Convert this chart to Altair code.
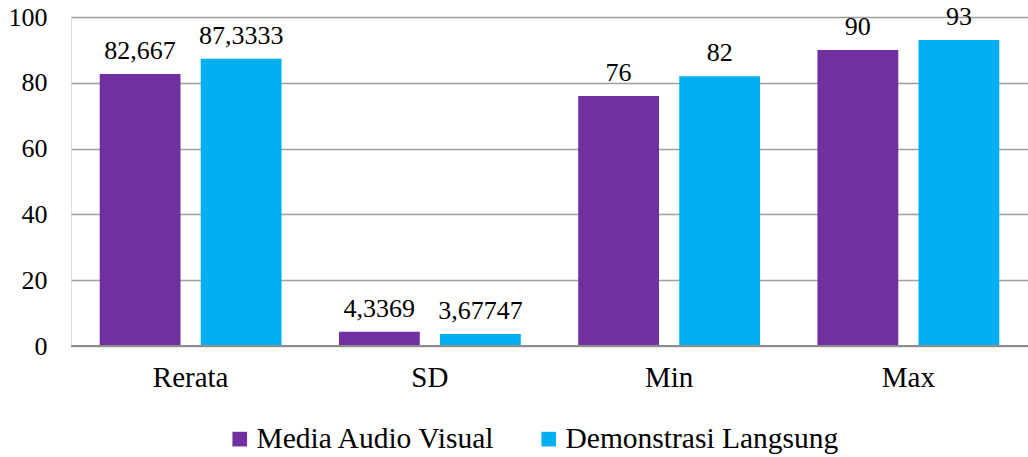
import altair as alt
import pandas as pd

# Descriptive statistics of the two learning methods
categories = ["Rerata", "SD", "Min", "Max"]
series_names = ["Media Audio Visual", "Demonstrasi Langsung"]
media_audio_visual = [82.667, 4.3369, 76, 90]
demonstrasi_langsung = [87.3333, 3.67747, 82, 93]
label_audio_visual = ["82,667", "4,3369", "76", "90"]
label_demonstrasi = ["87,3333", "3,67747", "82", "93"]
colors = ["#7030A0", "#00B0F0"]

rows = []
for i, cat in enumerate(categories):
    rows.append({"kategori": cat, "seri": series_names[0], "nilai": media_audio_visual[i], "label": label_audio_visual[i]})
    rows.append({"kategori": cat, "seri": series_names[1], "nilai": demonstrasi_langsung[i], "label": label_demonstrasi[i]})
df = pd.DataFrame(rows)

FONT = "Times New Roman, Liberation Serif, serif"

x_enc = alt.X("kategori:N", sort=categories, title=None,
              scale=alt.Scale(paddingInner=0.24, paddingOuter=0.12),
              axis=alt.Axis(labelAngle=0, labelFont=FONT, labelFontSize=29,
                            labelColor="#000000", labelPadding=17, ticks=False,
                            domain=False, grid=False))
xoff = alt.XOffset("seri:N", sort=series_names,
                   scale=alt.Scale(paddingInner=0.2, paddingOuter=0))
y_enc = alt.Y("nilai:Q", title=None,
              scale=alt.Scale(domain=[0, 100], nice=False),
              axis=alt.Axis(values=[0, 20, 40, 60, 80, 100], labelFont=FONT,
                            labelFontSize=26, labelColor="#000000", labelPadding=24,
                            ticks=False, domain=False, grid=True,
                            gridColor="#A0A0A0", gridWidth=1.5))

bars = alt.Chart(df).mark_bar().encode(
    x=x_enc,
    xOffset=xoff,
    y=y_enc,
    color=alt.Color("seri:N", sort=series_names,
                    scale=alt.Scale(domain=series_names, range=colors),
                    legend=alt.Legend(title=None, orient="none", direction="horizontal",
                                      legendX=154, legendY=407,
                                      symbolType="square", symbolSize=215,
                                      symbolStrokeWidth=0, labelFont=FONT,
                                      labelFontSize=29.5, labelColor="#000000",
                                      labelOffset=2, columnPadding=38,
                                      labelLimit=400)),
)

labels = alt.Chart(df).mark_text(font=FONT, fontSize=26, color="#000000",
                                 baseline="alphabetic", dy=-15).encode(
    x=alt.X("kategori:N", sort=categories),
    xOffset=alt.XOffset("seri:N", sort=series_names),
    y="nilai:Q",
    text="label:N",
)

zero_line = alt.Chart(pd.DataFrame({"y": [0]})).mark_rule(color="#8C8C8C", strokeWidth=2).encode(
    y="y:Q"
)

chart = alt.layer(bars, zero_line, labels).properties(
    width=957, height=329,
    padding={"left": 71, "top": 17, "right": 0, "bottom": 111},
    autosize=alt.AutoSizeParams(type="none"),
).configure_view(stroke=None).configure(background="#FFFFFF", font=FONT)

chart.save("out.html", embed_options={"renderer": "svg", "actions": False})
